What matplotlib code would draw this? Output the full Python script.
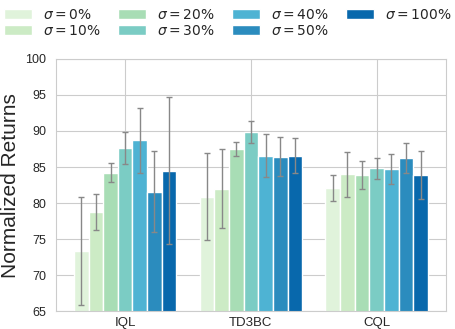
import numpy as np
import matplotlib
matplotlib.use("Agg")
import matplotlib.pyplot as plt
import seaborn as sns

# data
algos = ["IQL", "TD3BC", "CQL"]
noise_labels = ["0%", "10%", "20%", "30%", "40%", "50%", "100%"]

iql_mean = [73.4, 78.7, 84.2, 87.6, 88.7, 81.6, 84.5]
iql_err = [7.5, 2.5, 1.3, 2.2, 4.5, 5.6, 10.2]
td3bc_mean = [80.9, 82.0, 87.5, 89.9, 86.6, 86.4, 86.6]
td3bc_err = [6.0, 5.5, 1.0, 1.5, 3.0, 2.7, 2.4]
cql_mean = [82.1, 84.0, 83.9, 84.8, 84.7, 86.3, 83.9]
cql_err = [1.8, 3.1, 2.0, 1.5, 2.1, 2.1, 3.3]

colors = ["#e0f3db", "#ccebc5", "#a8ddb5", "#7bccc4", "#4eb3d3", "#2b8cbe", "#0868ac"]

sns.set_style("whitegrid")
plt.rcParams['font.family'] = ['Liberation Sans', 'DejaVu Sans']

means = np.array([iql_mean, td3bc_mean, cql_mean])
errs = np.array([iql_err, td3bc_err, cql_err])

fig = plt.figure(figsize=(4.55, 3.29), dpi=100)
ax = fig.add_axes([0.123, 0.054, 0.857, 0.767])

n = len(noise_labels)
w = 0.815 / n
x = np.arange(len(algos))
for j in range(n):
    pos = x + (j - (n - 1) / 2) * w
    ax.bar(pos, means[:, j], width=w, color=colors[j], edgecolor="white",
           linewidth=1, label=r"$\sigma = %s$" % noise_labels[j].replace("%", r"\%"),
           zorder=2)
    ax.errorbar(pos, means[:, j], yerr=errs[:, j], fmt="none", ecolor="#888888",
                elinewidth=1, capsize=2.5, capthick=1, zorder=3)

ax.set_xlim(-0.55, 2.55)
ax.set_ylim(65, 100)
ax.set_xticks(x)
ax.set_xticklabels(algos, fontsize=9.5)
ax.tick_params(axis="x", pad=0.5)
ax.tick_params(axis="y", labelsize=9)
ax.set_ylabel("Normalized Returns", fontsize=15)
ax.set_axisbelow(True)

fig.legend(loc="upper center", bbox_to_anchor=(0.501, 1.015), ncol=4, frameon=False,
           fontsize=10, labelspacing=0.15, columnspacing=1.25)

fig.savefig("out.png", dpi=100)
